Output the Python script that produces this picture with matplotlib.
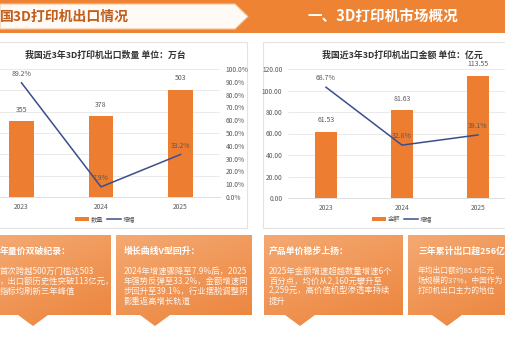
import numpy as np
import matplotlib.pyplot as plt
from matplotlib.patches import Polygon, Rectangle
from matplotlib.ticker import FuncFormatter

plt.rcParams['font.family'] = ['Noto Sans CJK SC', 'DejaVu Sans']

years = ['2023', '2024', '2025']
qty = [355, 378, 503]                 # 万台
qty_growth = [0.892, 0.079, 0.332]
amount = [61.53, 81.63, 113.55]       # 亿元
amount_growth = [0.687, 0.328, 0.391]

BAR = '#ED7D31'
LINE = '#3B4E8C'
GREY = '#595959'
W, H = 505, 337

fig = plt.figure(figsize=(W / 100, H / 100), dpi=100)
fig.patch.set_facecolor('white')

# background layer in pixel coordinates
bg = fig.add_axes([0, 0, 1, 1])
bg.set_xlim(0, W)
bg.set_ylim(H, 0)
bg.axis('off')

def px_axes(x0, x1, ytop, ybot):
    return [x0 / W, 1 - ybot / H, (x1 - x0) / W, (ybot - ytop) / H]

# top banner
bg.add_patch(Rectangle((0, 0), W, 33, color='#EE8433', lw=0))
bg.add_patch(Polygon([(0, 4), (235, 4), (248, 16.5), (235, 29), (0, 29)],
                     closed=True, fc='#FFFAF5', ec='#F6C39B', lw=0.8))
bg.text(0, 17, '国3D打印机出口情况', color='#C05E1C', fontsize=10, fontweight='bold',
        va='center', ha='left')
bg.text(383, 17, '一、3D打印机市场概况', color='white', fontsize=10.5, fontweight='bold',
        va='center', ha='center')

# chart panels
for x0, x1 in [(-2, 247), (263, 508)]:
    bg.add_patch(Rectangle((x0, 42), x1 - x0, 186, fc='white', ec='#E3E3E3', lw=0.8))

# bottom boxes with gradient
boxes = [(-5, 111, 33), (116, 252, 155), (264, 403, 300), (408, 512, 447)]
yy, xx = np.mgrid[0:1:60j, 0:1:60j]
t = np.clip(0.65 * yy + 0.35 * xx, 0, 1)[..., None]
c0 = np.array([0xF4, 0xA9, 0x72]) / 255
c1 = np.array([0xEC, 0x84, 0x3C]) / 255
grad = c0 * (1 - t) + c1 * t
for x0, x1, p in boxes:
    poly = Polygon([(x0, 235), (x1, 235), (x1, 315), (p + 15, 315), (p, 326),
                    (p - 15, 315), (x0, 315)], closed=True, fc='none', ec='none')
    bg.add_patch(poly)
    im = bg.imshow(grad, extent=(x0, x1, 326, 235), origin='upper', aspect='auto',
                   interpolation='bilinear')
    im.set_clip_path(poly)

titles = [(0, '年量价双破纪录：'), (124, '增长曲线V型回升：'),
          (269, '产品单价稳步上扬：'), (418, '三年累计出口超256亿')]
bodies = [(0, 6.0, ['首次跨越500万门槛达503', '，出口额历史性突破113亿元，', '指标均刷新三年峰值']),
          (124, 6.0, ['2024年增速骤降至7.9%后，2025', '年强势反弹至33.2%，金额增速同',
                      '步回升至39.1%，行业摆脱调整阴', '影重返高增长轨道']),
          (269, 6.0, ['2025年金额增速超越数量增速6个', '百分点，均价从2,160元攀升至',
                      '2,259元，高价值机型渗透率持续', '提升']),
          (418, 5.6, ['年均出口额约85.6亿元', '场规模的37%，中国作为', '打印机出口主力的地位'])]
for x, s in titles:
    bg.text(x, 251, s, color='white', fontsize=6.4, fontweight='bold', va='center')
for x, fs, lines in bodies:
    for i, s in enumerate(lines):
        bg.text(x, 271 + 10 * i, s, color='#FFF3EA', fontsize=fs, va='center')


def draw_chart(rect, vals, growth, ymax, ystep, gmax, fmt, title, tx, name, legx,
               show_left, show_right, bw):
    ax = fig.add_axes(rect)
    ax.patch.set_alpha(0)
    x = np.arange(len(years))
    bars = ax.bar(x, vals, width=bw, color=BAR, zorder=2, label=name)
    ax.set_xlim(-0.5, 2.5)
    ax.set_ylim(0, ymax)
    ax.set_yticks(np.arange(0, ymax + 0.01, ystep))
    ax.yaxis.set_major_formatter(FuncFormatter(lambda v, _: format(v, fmt)))
    ax.grid(axis='y', color='#E6E6E6', lw=0.6, zorder=0)
    ax.set_xticks(x)
    ax.set_xticklabels(years)
    ax.tick_params(length=0, labelsize=4.8, colors=GREY, pad=4)
    if not show_left:
        ax.tick_params(axis='y', labelleft=False)
    for s in ax.spines.values():
        s.set_visible(False)
    ax.spines['bottom'].set_visible(True)
    ax.spines['bottom'].set_color('#D9D9D9')
    ax.spines['bottom'].set_linewidth(0.6)
    for b, v in zip(bars, vals):
        ax.annotate(format(v, 'g'), (b.get_x() + b.get_width() / 2, v),
                    xytext=(0, 5.5), textcoords='offset points', ha='center',
                    va='bottom', fontsize=5, color=GREY)

    ax2 = ax.twinx()
    line, = ax2.plot(x, growth, color=LINE, lw=1.1, zorder=3, label='增幅')
    ax2.set_ylim(0, gmax)
    ax2.set_yticks(np.arange(0, gmax + 0.001, 0.1))
    ax2.yaxis.set_major_formatter(FuncFormatter(lambda v, _: '%.1f%%' % (v * 100)))
    ax2.tick_params(length=0, labelsize=4.8, colors=GREY, pad=4)
    if not show_right:
        ax2.tick_params(axis='y', labelright=False)
    for s in ax2.spines.values():
        s.set_visible(False)
    for xi, g in zip(x, growth):
        ax2.annotate('%.1f%%' % (g * 100), (xi, g), xytext=(0, 3.5),
                     textcoords='offset points', ha='center', va='bottom',
                     fontsize=5, color=GREY)

    bg.text(tx, 55, title, fontsize=6.4, fontweight='bold', color='#333333',
            ha='center', va='center')
    fig.legend([bars, line], [name, '增幅'], loc='center', ncol=2, frameon=False,
               bbox_to_anchor=(legx / W, 1 - 219 / H), fontsize=4.5,
               handlelength=2.2, handleheight=0.6, columnspacing=0.6,
               handletextpad=0.3, labelcolor=GREY)


draw_chart(px_axes(-18.25, 220.25, 69, 197), qty, qty_growth, 600, 100, 1.0, 'g',
           '我国近3年3D打印机出口数量 单位：万台', 105, '数量', 105,
           False, True, 0.31)
draw_chart(px_axes(288, 516, 69, 198), amount, amount_growth, 120, 20, 0.8, '.2f',
           '我国近3年3D打印机出口金额 单位：亿元', 402, '金额', 402,
           True, False, 0.30)

fig.savefig('out.png', dpi=100)
